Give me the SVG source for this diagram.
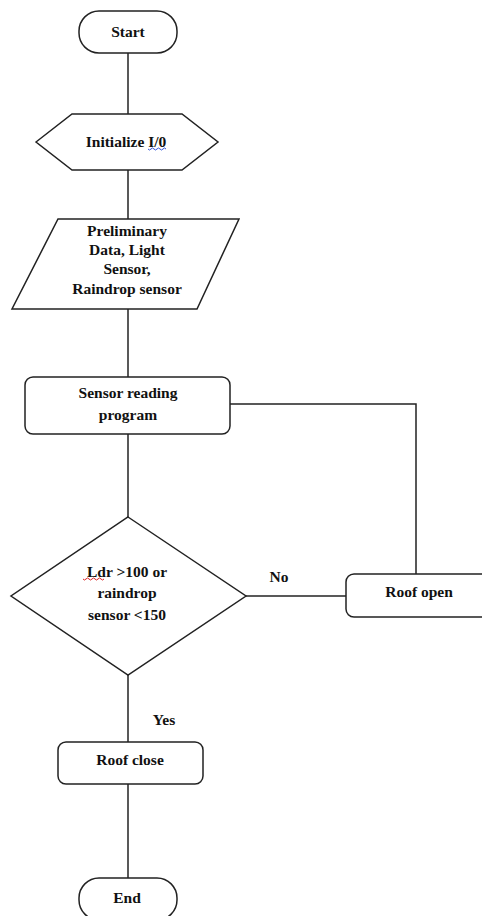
<svg xmlns="http://www.w3.org/2000/svg" width="482" height="916" viewBox="0 0 482 916">
<style>
.s{fill:#fff;stroke:#222;stroke-width:1.5}
.c{fill:none;stroke:#222;stroke-width:1.5}
text{font-family:"Liberation Serif","Times New Roman",serif;font-size:15.5px;font-weight:bold;fill:#111;text-anchor:middle}
.sq{fill:none;stroke-width:1}
</style>
<rect width="482" height="916" fill="#fff"/>
<g id="connectors">
<path class="c" d="M128 53V114"/>
<path class="c" d="M128 170V219"/>
<path class="c" d="M128 309V377"/>
<path class="c" d="M128 434V517"/>
<path class="c" d="M246 596H346"/>
<path class="c" d="M416 574V404H228"/>
<path class="c" d="M128 675V742"/>
<path class="c" d="M128 784V878"/>
<text x="279" y="582">No</text>
<text x="164" y="725">Yes</text>
</g>
<g id="start">
<rect class="s" x="79" y="11" width="98" height="42" rx="20"/>
<text x="128" y="37">Start</text>
</g>
<g id="init">
<polygon class="s" points="36,142 72,114 182,114 218,142 182,170 72,170"/>
<text x="126" y="147">Initialize I/0</text>
<path class="sq" stroke="#3355dd" d="M148 149q1.5 2 3 0t3 0t3 0t3 0t3 0t3 0"/>
</g>
<g id="data">
<polygon class="s" points="58,219 239,219 197,309 12,309"/>
<text x="127" y="236">Preliminary</text>
<text x="127" y="255">Data, Light</text>
<text x="127" y="274">Sensor,</text>
<text x="127" y="294">Raindrop sensor</text>
</g>
<g id="reading">
<rect class="s" x="25" y="377" width="205" height="57" rx="8"/>
<text x="128" y="398">Sensor reading</text>
<text x="128" y="420">program</text>
</g>
<g id="decision">
<polygon class="s" points="128,517 246,596 128,675 11,596"/>
<text x="127" y="577">Ldr &gt;100 or</text>
<text x="127" y="598">raindrop</text>
<text x="127" y="620">sensor &lt;150</text>
<path class="sq" stroke="#dd2222" d="M83 579q1.5 2 3 0t3 0t3 0t3 0t3 0t3 0t3 0"/>
</g>
<g id="roofopen">
<rect class="s" x="346" y="574" width="150" height="43" rx="8"/>
<text x="419" y="597">Roof open</text>
</g>
<g id="roofclose">
<rect class="s" x="58" y="742" width="145" height="42" rx="8"/>
<text x="130" y="765">Roof close</text>
</g>
<g id="end">
<rect class="s" x="79" y="878" width="98" height="42" rx="20"/>
<text x="127" y="903">End</text>
</g>
</svg>
